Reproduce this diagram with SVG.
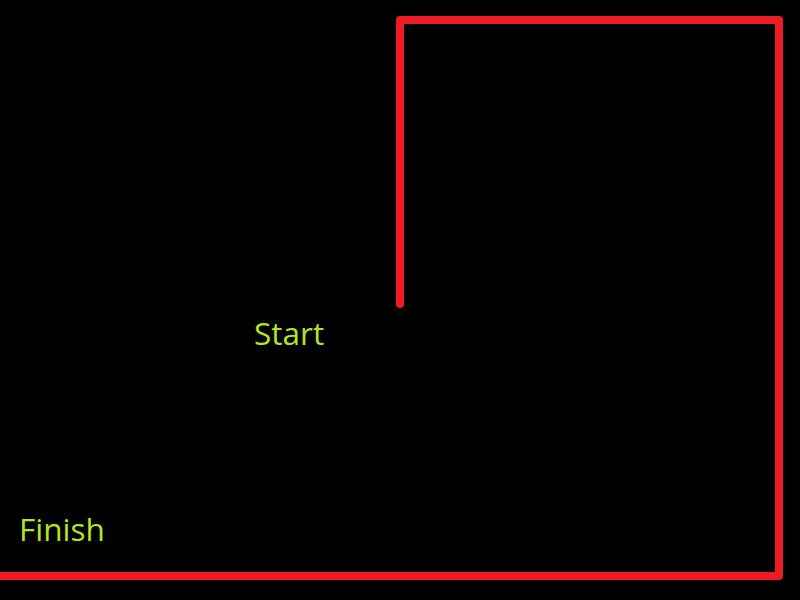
<svg xmlns="http://www.w3.org/2000/svg" width="800" height="600" viewBox="0 0 800 600">
<style>
.wall{fill:none;stroke:#ed1c24;stroke-width:8;stroke-linecap:round;stroke-linejoin:round}
.lbl{font-family:"Open Sans","Noto Sans",sans-serif;font-size:31.5px;fill:#b4e61e}
</style>
<rect width="800" height="600" fill="#000"/>
<g id="connectors">
<polyline class="wall" points="400,304 400,20 779,20 779,576 0,576"/>
</g>
<g id="start"><text class="lbl" x="254" y="345">Start</text></g>
<g id="finish"><text class="lbl" x="19" y="541">Finish</text></g>
</svg>
